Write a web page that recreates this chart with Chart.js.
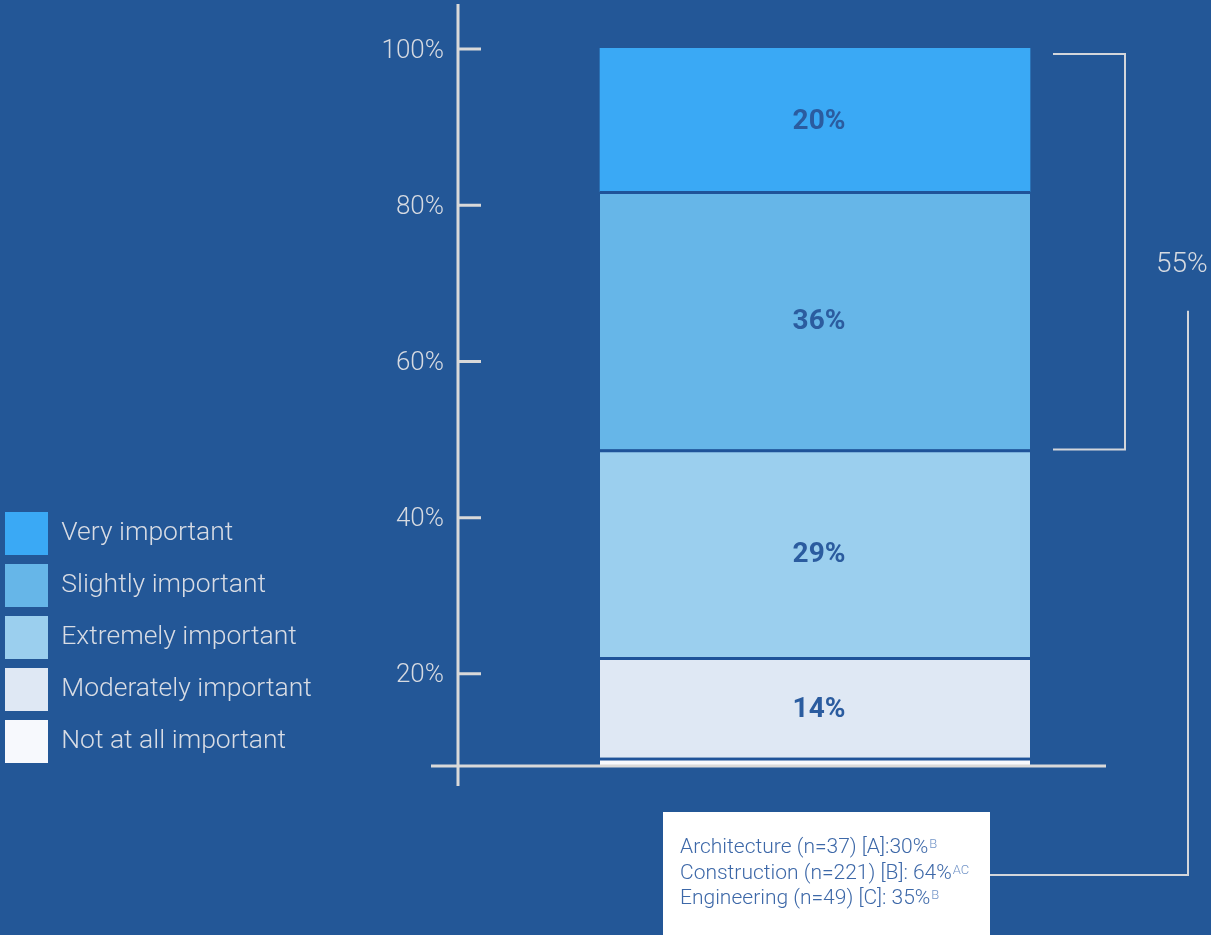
<!DOCTYPE html>
<html lang="en">
<head>
<meta charset="UTF-8">
<title>How important – stacked bar</title>
<script src="https://cdn.jsdelivr.net/npm/chart.js"></script>
<style>
  html, body { margin: 0; padding: 0; background: #235797; overflow: hidden; }
  canvas { display: block; }
</style>
</head>
<body>
<canvas id="importanceChart" width="1211" height="935"></canvas>
<script>
// segments, bottom of the bar first
const categories = ['Not at all important', 'Moderately important', 'Extremely important', 'Slightly important', 'Very important'];
const shares = [1, 14, 29, 36, 20];
const segmentColors = ['#f7f9fd', '#dfe8f4', '#9bcfee', '#66b6e8', '#3aa9f5'];

// visible axis
const tickValues = [20, 40, 60, 80, 100];
const axisMin = 8.2;   // the drawn axis does not reach zero

// bracket over the two top segments and the breakdown box
const topTwoTotal = 55;
const breakdownText = ['Architecture (n=37) [A]:30%', 'Construction (n=221) [B]: 64%', 'Engineering (n=49) [C]: 35%'];
const breakdownSup = ['B', 'AC', 'B'];

const LINE = '#d9d9d9';
const BG_LINE = '#1f5399';

Chart.defaults.font.family = 'Roboto';

const decor = {
  id: 'decor',
  afterDatasetsDraw(chart) {
    const c = chart.ctx;
    const area = chart.chartArea;
    const yAxis = chart.scales.y;
    const metas = chart.data.datasets.map((d, i) => chart.getDatasetMeta(i).data[0]);
    const anyBar = metas[0];
    const barLeft = anyBar.x - anyBar.width / 2;
    const barRight = anyBar.x + anyBar.width / 2;

    c.save();
    // value labels inside the segments
    c.font = 'bold 28px Roboto';
    c.fillStyle = '#2b5c9f';
    c.textAlign = 'center';
    c.textBaseline = 'middle';
    chart.data.datasets.forEach((ds, i) => {
      if (ds.data[0] < 5) return;
      const el = metas[i];
      c.fillText(ds.data[0] + '%', el.x + 4, (el.y + el.base) / 2 + 2);
    });

    // axes
    c.strokeStyle = LINE;
    c.lineWidth = 3;
    c.beginPath();
    c.moveTo(area.left, area.top - 44);
    c.lineTo(area.left, area.bottom + 21);
    c.moveTo(area.left - 27, area.bottom + 1);
    c.lineTo(barRight + 76, area.bottom + 1);
    yAxis.ticks.forEach(t => {
      const py = yAxis.getPixelForValue(t.value) + 1;
      c.moveTo(area.left, py);
      c.lineTo(area.left + 23, py);
    });
    c.stroke();

    // bracket around the top two segments
    const topEl = metas[metas.length - 1];
    const secondEl = metas[metas.length - 2];
    const bTop = topEl.y + 6;
    const bBot = secondEl.base;
    const bx0 = barRight + 23, bx1 = barRight + 95;
    c.strokeStyle = '#d3d6db';
    c.lineWidth = 2;
    c.beginPath();
    c.moveTo(bx0, bTop); c.lineTo(bx1, bTop); c.lineTo(bx1, bBot); c.lineTo(bx0, bBot);
    c.stroke();

    const midY = (bTop + bBot) / 2 + 13;
    c.font = '300 28px Roboto';
    c.fillStyle = '#d6dae1';
    c.textAlign = 'left';
    c.fillText(topTwoTotal + '%', bx1 + 31, midY);

    // breakdown box
    const boxX = barLeft + 63, boxY = area.bottom + 47, boxW = 327;
    c.fillStyle = '#ffffff';
    c.fillRect(boxX, boxY, boxW, chart.height - boxY);

    const linkX = bx1 + 63, linkY = boxY + 63;
    c.beginPath();
    c.moveTo(linkX, midY + 46);
    c.lineTo(linkX, linkY);
    c.lineTo(boxX + boxW, linkY);
    c.stroke();

    c.textBaseline = 'alphabetic';
    breakdownText.forEach((txt, i) => {
      const ty = boxY + 41 + i * 25.5;
      c.font = '300 21px Roboto';
      c.fillStyle = '#3d68a8';
      c.fillText(txt, boxX + 17, ty);
      const w = c.measureText(txt).width;
      c.font = '300 13px Roboto';
      c.fillStyle = '#7395c8';
      c.fillText(breakdownSup[i], boxX + 17 + w + 1, ty - 5);
    });
    c.restore();
  }
};

new Chart(document.getElementById('importanceChart'), {
  type: 'bar',
  data: {
    labels: [''],
    datasets: categories.map((name, i) => ({
      label: name,
      data: [shares[i]],
      backgroundColor: segmentColors[i],
      borderColor: BG_LINE,
      borderWidth: i === categories.length - 1 ? 0 : { top: 3, right: 0, bottom: 0, left: 0 },
      borderSkipped: false,
      barThickness: 430,
      yAxisID: 'yd'
    }))
  },
  options: {
    responsive: false,
    animation: false,
    events: [],
    layout: { padding: { top: 48, right: 39, bottom: 163, left: -4 } },
    plugins: {
      tooltip: { enabled: false },
      legend: {
        position: 'left',
        align: 'end',
        reverse: true,
        maxWidth: 420,
        labels: {
          boxWidth: 43,
          boxHeight: 43,
          padding: 9,
          color: '#d8dce4',
          font: { family: 'Roboto', size: 26.5, weight: 300 },
          generateLabels: chart => Chart.defaults.plugins.legend.labels.generateLabels(chart)
            .map(l => ({ ...l, lineWidth: 0, strokeStyle: 'rgba(0,0,0,0)' }))
        }
      }
    },
    scales: {
      x: {
        stacked: true,
        grid: { display: false, drawTicks: false },
        border: { display: false },
        ticks: { display: false },
        afterFit: s => { s.height = 7; }
      },
      y: {
        position: 'left',
        min: axisMin,
        max: 100,
        grid: { display: false, drawTicks: false },
        border: { display: false },
        afterBuildTicks: s => { s.ticks = tickValues.map(v => ({ value: v })); },
        afterFit: s => { s.width = 462 - s.chart.legend.width; },
        ticks: {
          padding: 14,
          labelOffset: 3,
          color: '#d6dae1',
          font: { family: 'Roboto', size: 26, weight: 300 },
          callback: v => v + '%'
        }
      },
      yd: {
        display: false,
        stacked: true,
        min: 0,
        max: 100
      }
    }
  },
  plugins: [decor]
});
</script>
</body>
</html>
